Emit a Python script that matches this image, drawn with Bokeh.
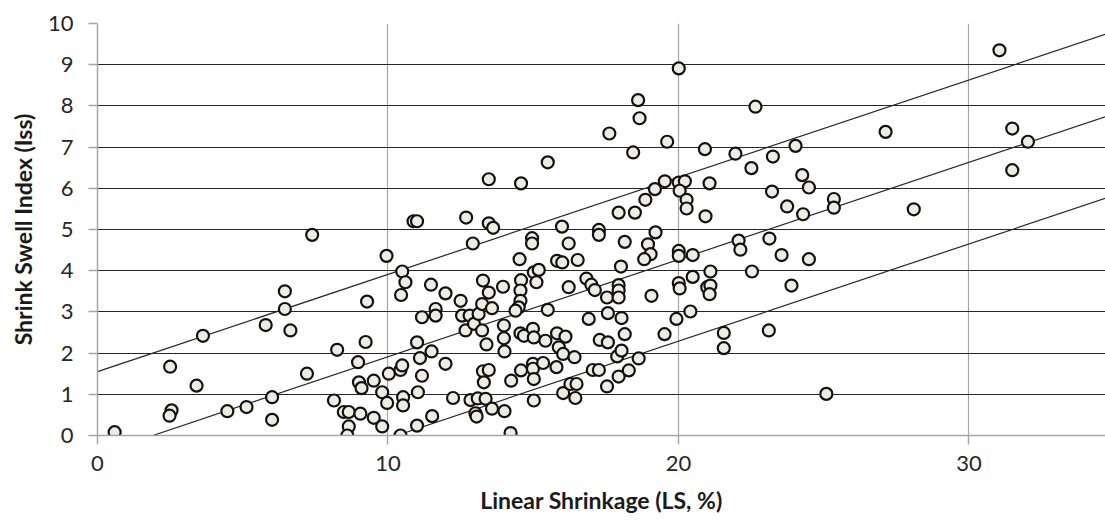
from bokeh.plotting import figure
from bokeh.models import Range1d, FixedTicker, ColumnDataSource
from bokeh.embed import file_html
from bokeh.resources import INLINE

# Linear Shrinkage (LS, %) and Shrink Swell Index (Iss)
ls = [0.59, 2.50, 2.55, 2.48, 3.41, 3.63, 4.47, 5.13, 5.79, 6.01, 6.01, 6.45, 6.45, 6.64, 7.21, 7.39, 8.14, 8.25,
      8.48, 8.65, 8.65, 8.60, 8.97, 9.00, 9.09, 9.05, 9.23, 9.28, 9.51, 9.51, 9.80, 9.80, 9.97, 9.95,
      10.03, 10.43, 10.49, 10.43, 10.52, 10.52, 10.49, 10.60, 10.45, 10.88, 11.00,
      11.00, 11.10, 11.17, 11.03, 11.00, 11.50, 11.52, 11.48, 11.17, 11.64, 11.64, 11.98, 11.98, 12.24, 12.50,
      12.67, 12.55, 12.81, 12.96, 12.69, 12.92, 12.84,
      13.12, 13.24, 13.27, 13.47, 13.58, 13.24, 13.39, 13.27, 13.47, 13.30, 13.09, 13.36, 13.01, 13.05, 13.58,
      13.47, 13.62, 13.47, 13.96, 13.99, 13.99, 14.01, 14.01,
      14.22, 14.24, 14.58, 14.53, 14.58, 14.56, 14.56, 14.50, 14.39, 14.56, 14.68, 14.58, 14.96, 14.96, 14.99,
      15.02, 14.99, 14.99, 15.02, 15.02, 15.02, 15.19, 15.11,
      15.34, 15.42, 15.50, 15.50, 15.80, 15.82, 15.88, 15.82, 16.00, 15.99, 16.03, 16.11, 16.03,
      16.22, 16.22, 16.28, 16.49, 16.45, 16.42, 16.53, 16.83, 17.00, 17.12, 16.91, 17.05, 17.26, 17.26, 17.26, 17.29,
      17.54, 17.57, 17.57, 17.54, 17.62, 17.94, 17.94, 17.94, 17.94, 17.89, 17.94, 18.04, 18.04, 18.02, 18.15,
      18.15, 18.29, 18.50, 18.63, 18.61, 18.66, 18.44, 18.86, 18.95, 19.04, 18.82, 19.07, 19.19, 19.21, 19.53,
      19.61, 19.52, 19.93,
      20.01, 20.01, 20.22, 20.04, 20.28, 20.28, 20.01, 20.01, 20.01, 20.04, 20.49, 20.49, 20.41, 20.91, 20.93,
      21.07, 21.10, 20.99, 21.10, 21.07, 21.56, 21.56, 21.96, 22.07, 22.13, 22.51, 22.53, 22.65, 23.11, 23.13,
      23.22, 23.25, 23.55, 23.74, 23.89, 24.03, 24.26, 24.49, 24.29, 24.49, 25.09, 25.35, 25.35, 27.13, 28.10,
      31.05, 31.49, 31.49, 32.03]
iss = [0.08, 1.67, 0.61, 0.48, 1.21, 2.42, 0.59, 0.69, 2.68, 0.93, 0.38, 3.50, 3.07, 2.55, 1.50, 4.87, 0.85, 2.08,
       0.57, 0.57, 0.22, 0.00, 1.78, 1.29, 1.15, 0.53, 2.27, 3.25, 1.33, 0.43, 0.22, 1.05, 0.79, 4.36,
       1.50, 1.59, 1.70, 0.00, 0.93, 0.73, 3.98, 3.72, 3.41, 5.20, 5.20,
       2.26, 1.88, 1.45, 1.05, 0.24, 2.04, 0.47, 3.66, 2.87, 3.07, 2.91, 3.45, 1.74, 0.91, 3.27,
       2.55, 2.91, 2.91, 2.71, 5.29, 4.66, 0.86,
       2.95, 3.19, 3.76, 3.47, 3.09, 2.55, 2.21, 1.56, 1.59, 1.29, 0.90, 0.89, 0.54, 0.46, 0.65,
       5.15, 5.04, 6.22, 3.61, 2.67, 2.36, 2.04, 0.59,
       0.06, 1.33, 1.58, 4.28, 3.77, 3.52, 3.27, 3.11, 3.03, 2.48, 2.42, 6.12, 4.79, 4.66, 2.59,
       2.38, 1.74, 1.62, 1.37, 0.85, 3.96, 4.02, 3.72,
       1.76, 2.30, 3.05, 6.63, 1.66, 2.48, 2.14, 4.24, 4.20, 5.07, 1.98, 2.40, 1.03,
       4.66, 3.60, 1.25, 1.25, 0.91, 1.90, 4.26, 3.81, 3.66, 3.53, 2.83, 1.59, 1.59, 4.99, 4.87, 2.32,
       3.35, 2.97, 2.26, 1.19, 7.33, 3.65, 3.52, 3.35, 5.41, 1.92, 1.43, 2.06, 2.85, 4.10, 4.70,
       2.46, 1.58, 5.41, 1.87, 8.14, 7.70, 6.87, 5.72, 4.64, 4.40, 4.28, 3.39, 5.98, 4.93, 6.17,
       7.13, 2.46, 2.83,
       8.91, 6.14, 6.17, 5.94, 5.72, 5.51, 4.48, 4.36, 3.70, 3.57, 4.38, 3.85, 3.01, 6.95, 5.32,
       6.12, 3.98, 3.60, 3.64, 3.43, 2.49, 2.12, 6.84, 4.73, 4.51, 6.49, 3.98, 7.98, 2.55, 4.78,
       5.92, 6.77, 4.38, 5.56, 3.64, 7.03, 6.32, 6.02, 5.37, 4.28, 1.01, 5.74, 5.53, 7.37, 5.49,
       9.35, 7.45, 6.44, 7.13]

# three parallel guide lines: Iss = slope * LS + intercept
line_slope = 0.236
line_intercepts = [1.55, -0.45, -2.43]

x_ticks = [0, 10, 20, 30]
y_ticks = [0, 1, 2, 3, 4, 5, 6, 7, 8, 9, 10]
x_max = 34.7
y_max = 10

FONT = "Lato"

p = figure(width=1105, height=524, output_backend="svg", toolbar_location=None,
           x_range=Range1d(0, x_max), y_range=Range1d(0, y_max),
           min_border_left=97, min_border_right=0, min_border_top=23, min_border_bottom=89)
p.outline_line_color = None
p.background_fill_color = "white"
p.border_fill_color = "white"

# grids
p.xgrid.ticker = FixedTicker(ticks=[t for t in x_ticks if t > 0])
p.xgrid.grid_line_color = "#A6A6A6"
p.xgrid.grid_line_width = 1.2
p.ygrid.ticker = FixedTicker(ticks=[t for t in y_ticks if t > 0])
p.ygrid.grid_line_color = "#262626"
p.ygrid.grid_line_width = 1.2

for ax, ticks in ((p.xaxis, x_ticks), (p.yaxis, y_ticks)):
    ax.ticker = FixedTicker(ticks=ticks)
    ax.axis_line_color = "#A6A6A6"
    ax.axis_line_width = 1.5
    ax.major_tick_line_color = "#A6A6A6"
    ax.major_tick_line_width = 1.5
    ax.major_tick_out = 9
    ax.major_tick_in = 0
    ax.minor_tick_line_color = None
    ax.major_label_text_font = FONT
    ax.major_label_text_font_size = "22px"
    ax.major_label_text_color = "#262626"
    ax.axis_label_text_font = FONT
    ax.axis_label_text_font_size = "23px"
    ax.axis_label_text_font_style = "bold"
    ax.axis_label_text_color = "#1a1a1a"

p.xaxis.axis_label = "Linear Shrinkage (LS, %)"
p.yaxis.axis_label = "Shrink Swell Index (Iss)"
p.xaxis.major_label_standoff = 11
p.xaxis.axis_label_standoff = 12
p.yaxis.major_label_standoff = 15
p.yaxis.axis_label_standoff = 8

# guide lines
for c in line_intercepts:
    x0 = max(0.0, -c / line_slope)
    xs = [x0, x_max]
    ys = [line_slope * x + c for x in xs]
    p.line(xs, ys, line_color="#262626", line_width=1.2)

src = ColumnDataSource(data=dict(ls=ls, iss=iss))
p.scatter("ls", "iss", source=src, size=12, marker="circle",
          fill_color="#EEECE1", line_color="#111111", line_width=2.2)

open("out.html", "w").write(file_html(p, INLINE))
